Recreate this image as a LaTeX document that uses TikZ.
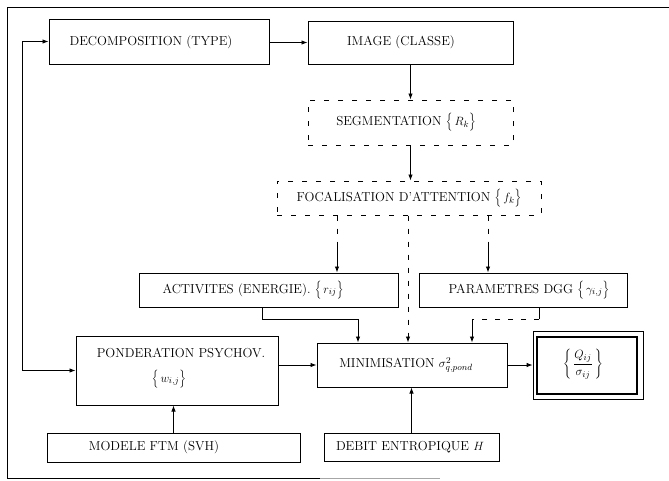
\documentclass[tikz,border=0pt]{standalone}
\usepackage{fontspec}
\usetikzlibrary{arrows.meta}
\begin{document}
\begin{tikzpicture}[x=1pt,y=-1pt,
  box/.style={draw, line width=1pt, inner sep=0pt},
  dbox/.style={draw, line width=1pt, dash pattern=on 5pt off 9pt, inner sep=0pt},
  lbl/.style={inner sep=0pt, font=\fontsize{13}{15}\selectfont\addfontfeature{LetterSpace=12}},
  arr/.style={line width=0.9pt, -{Latex[length=6pt,width=4.5pt]}},
  dln/.style={line width=0.9pt, dash pattern=on 5pt off 8pt},
]
\useasboundingbox (0,0) rectangle (669,480);
% outer frame
\draw[line width=0.9pt] (669,7) -- (7,7) -- (7,478) -- (320,478);
\draw[line width=0.8pt, black!35] (320,478) -- (440,478);

% boxes
\node[box, minimum width=220pt, minimum height=45pt] (dec) at (159,41.5) {};
\node[box, minimum width=205pt, minimum height=43pt] (img) at (410.5,42.5) {};
\node[dbox, minimum width=205pt, minimum height=45pt] (seg) at (410.5,122.5) {};
\node[dbox, minimum width=264pt, minimum height=34pt] (foc) at (409,198) {};
\node[box, minimum width=259pt, minimum height=34pt] (act) at (268.5,290) {};
\node[box, minimum width=208pt, minimum height=34pt] (par) at (523,290) {};
\node[box, minimum width=202pt, minimum height=69pt] (pond) at (177,370.5) {};
\node[box, minimum width=190pt, minimum height=44pt] (mini) at (412,365) {};
\node[box, line width=0.7pt, minimum width=110pt, minimum height=68pt] (resO) at (588,365) {};
\node[box, line width=1.3pt, minimum width=100pt, minimum height=57pt] (resI) at (587,365.5) {};
\node[box, minimum width=253pt, minimum height=29pt] (mod) at (173.5,447.5) {};
\node[box, minimum width=175pt, minimum height=28pt] (deb) at (411.5,447) {};

% texts
\node[lbl] (tdec) at (151,42) {DECOMPOSITION (TYPE)};
\node[lbl] (timg) at (401,42) {IMAGE (CLASSE)};
\node[lbl] (tseg) at (406,122) {SEGMENTATION $\Big\{\, R_k \Big\}$};
\node[lbl] (tfoc) at (409,198) {FOCALISATION D'ATTENTION $\Big\{\, f_k \Big\}$};
\node[lbl] (tact) at (253,290) {ACTIVITES (ENERGIE). $\Big\{\, r_{ij} \Big\}$};
\node[lbl] (tpar) at (529,290) {PARAMETRES DGG $\Big\{\, \gamma_{i,j} \Big\}$};
\node[lbl] (tpond1) at (181,353) {PONDERATION PSYCHOV.};
\node[lbl] (tpond2) at (169,379) {$\Big\{\, w_{i,j} \Big\}$};
\node[lbl] (tmini) at (406,365) {MINIMISATION $\sigma^{2}_{q,pond}$};
\node[lbl] (tres) at (583,364) {$\left\{\, \displaystyle\frac{Q_{ij}}{\sigma_{ij}} \,\right\}$};
\node[lbl] (tmod) at (154,447) {MODELE FTM (SVH)};
\node[lbl] (tdeb) at (410,447) {DEBIT ENTROPIQUE $H$};

% connector coordinates
\coordinate (lt) at (22,200);
\coordinate (fa) at (337,245);
\coordinate (fp) at (488,245);
\coordinate (fm) at (408,300);
\coordinate (ab) at (262,319);
\coordinate (ae) at (358,319);
\coordinate (pb) at (539,319);
\coordinate (pe) at (472,319);

% connectors
\draw[arr] (dec.east |- 0,42.5) -- (img.west |- 0,42.5);
\draw[arr] (img.south) -- (seg.north);
\draw[arr] (seg.south) -- (seg.south |- foc.north);
\draw[dln] (fa |- foc.south) -- (fa);
\draw[arr] (fa) -- (fa |- act.north);
\draw[dln] (fp |- foc.south) -- (fp);
\draw[arr] (fp) -- (fp |- par.north);
\draw[dln, -{Latex[length=6pt,width=4.5pt]}] (fm |- foc.south) -- (fm |- mini.north);
\draw[arr] (act.south -| ab) -- (ab) -- (ae) -- (ae |- mini.north);
\draw[line width=0.9pt] (par.south -| pb) -- (pb);
\draw[dln] (pb) -- (pe);
\draw[arr] (pe) -- (pe |- mini.north);
\draw[line width=0.9pt, {Latex[length=6pt,width=4.5pt]}-{Latex[length=6pt,width=4.5pt]}]
  (dec.west) -- (dec.west -| lt) -- (pond.west -| lt) -- (pond.west);
\draw[arr] (pond.east |- mini.west) -- (mini.west);
\draw[arr] (mini.east) -- (mini.east -| resO.west);
\draw[arr] (mod.north) -- (mod.north |- pond.south);
\draw[arr] (deb.north) -- (deb.north |- mini.south);
\end{tikzpicture}
\end{document}
